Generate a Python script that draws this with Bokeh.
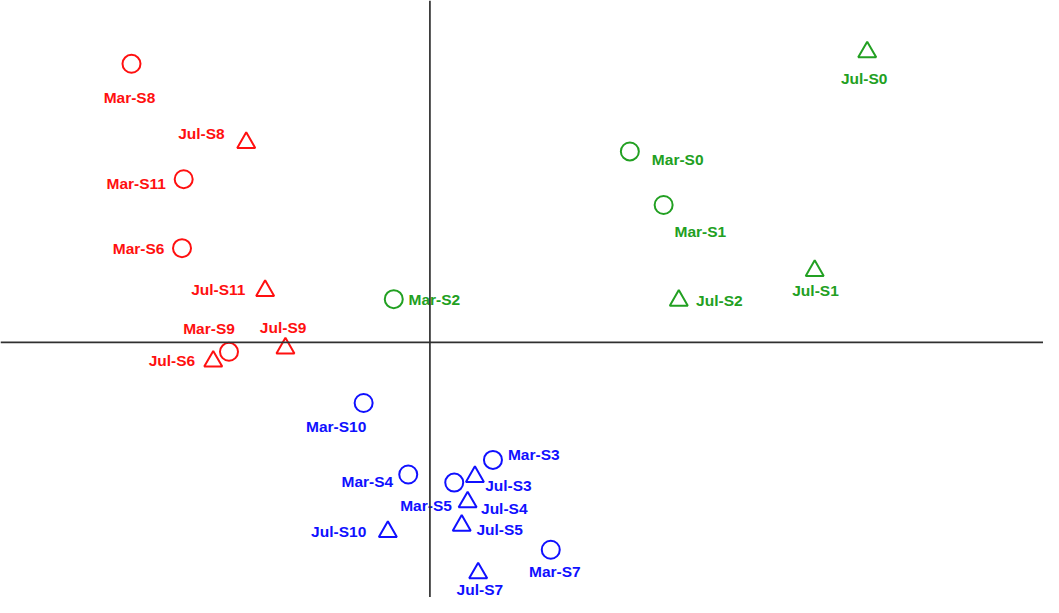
from bokeh.plotting import figure
from bokeh.models import ColumnDataSource, Span, Range1d
from bokeh.core.properties import value
from bokeh.embed import file_html
from bokeh.resources import INLINE

# ---- data ----
names = ["Mar-S8", "Jul-S8", "Mar-S11", "Mar-S6", "Jul-S11", "Mar-S9", "Jul-S9", "Jul-S6",
         "Jul-S0", "Mar-S0", "Mar-S1", "Jul-S1", "Jul-S2", "Mar-S2",
         "Mar-S10", "Mar-S3", "Mar-S4", "Jul-S3", "Mar-S5", "Jul-S4", "Jul-S5", "Jul-S10",
         "Mar-S7", "Jul-S7"]
xs = [-3.03, -1.865, -2.50, -2.517, -1.673, -2.04, -1.467, -2.20,
      4.44, 2.03, 2.373, 3.907, 2.527, -0.367,
      -0.673, 0.64, -0.22, 0.457, 0.247, 0.383, 0.323, -0.427,
      1.227, 0.49]
ys = [2.86, 2.05, 1.675, 0.967, 0.53, -0.097, -0.06, -0.195,
      2.98, 1.96, 1.41, 0.735, 0.43, 0.443,
      -0.623, -1.207, -1.357, -1.38, -1.44, -1.64, -1.88, -1.945,
      -2.13, -2.37]
groups = ["red"] * 8 + ["green"] * 6 + ["blue"] * 10

# ---- styling / label placement ----
palette = {"red": "#ff1010", "green": "#22a022", "blue": "#1010ff"}
label_place = {
    "Mar-S8": ("center", -2, 33.5), "Jul-S8": ("right", -21.5, -9),
    "Mar-S11": ("right", -17.7, 4), "Mar-S6": ("right", -17.6, 0.7),
    "Jul-S11": ("right", -19.7, -1), "Mar-S9": ("center", -20, -23),
    "Jul-S9": ("center", -2.3, -21), "Jul-S6": ("right", -18, -0.5),
    "Jul-S0": ("center", -3, 26.3), "Mar-S0": ("left", 22, 8.3),
    "Mar-S1": ("center", 36.7, 26.7), "Jul-S1": ("center", 0.8, 20.2),
    "Jul-S2": ("left", 17.3, -0.3), "Mar-S2": ("left", 14.7, 0.3),
    "Mar-S10": ("center", -27.5, 23.4), "Mar-S3": ("left", 15, -5),
    "Mar-S4": ("right", -15, 7.3), "Jul-S3": ("left", 10.3, 8.7),
    "Mar-S5": ("center", -28.2, 22.7), "Jul-S4": ("left", 13.4, 6),
    "Jul-S5": ("left", 14.7, 3.7), "Jul-S10": ("right", -21.6, -0.2),
    "Mar-S7": ("center", 4.1, 22), "Jul-S7": ("center", 1.7, 16.5),
}

colors = [palette[g] for g in groups]
markers = ["circle" if n.startswith("Mar") else "triangle" for n in names]

src = ColumnDataSource(dict(
    x=xs, y=ys, name=names, color=colors, marker=markers,
    align=[label_place[n][0] for n in names],
    dx=[label_place[n][1] for n in names],
    dy=[label_place[n][2] for n in names],
))

p = figure(width=1043, height=597, output_backend="svg", toolbar_location=None,
           x_range=Range1d(-4.36, 6.23), y_range=Range1d(-2.62, 3.51),
           min_border=0, min_border_left=0, min_border_right=0,
           min_border_top=0, min_border_bottom=0)
p.axis.visible = False
p.grid.visible = False
p.outline_line_color = None
p.background_fill_color = "white"
p.border_fill_color = "white"

p.add_layout(Span(location=0, dimension="width", line_color="#303030", line_width=1.7))
p.add_layout(Span(location=0, dimension="height", line_color="#303030", line_width=1.7))

p.scatter("x", "y", marker="marker", size=18, source=src, fill_color=None,
          line_color="color", line_width=2)

p.text("x", "y", text="name", source=src, text_color="color",
       text_font=value("Liberation Sans"), text_font_style="bold",
       text_font_size="15.5px", text_align="align", text_baseline="middle",
       x_offset="dx", y_offset="dy")

open("out.html", "w").write(file_html(p, INLINE))
